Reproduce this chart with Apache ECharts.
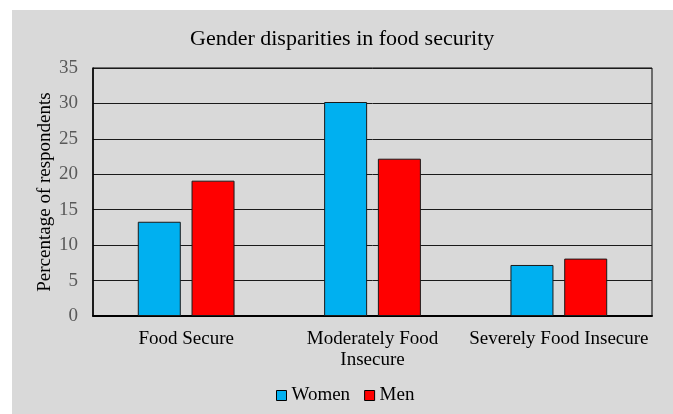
<!DOCTYPE html>
<html><head><meta charset="utf-8">
<script src="https://cdn.jsdelivr.net/npm/echarts@6/dist/echarts.min.js"></script>
<style>html,body{margin:0;padding:0;background:#fff}#c{width:673px;height:414px}</style>
</head><body><div id="c"></div>
<script>
var categories = ['Food Secure', 'Moderately Food\nInsecure', 'Severely Food Insecure'];
var women = [13.3, 30.2, 7.2];
var men = [19.1, 22.2, 8.1];
var yTicks = [0, 5, 10, 15, 20, 25, 30, 35];

var chart = echarts.init(document.getElementById('c'), null, {renderer: 'canvas'});
var serif = '"Liberation Serif","Times New Roman",serif';
chart.setOption({
  backgroundColor: '#ffffff',
  animation: false,
  graphic: [{type: 'rect', z: -10, silent: true, shape: {x: 12, y: 10, width: 661, height: 404}, style: {fill: '#d9d9d9'}}],
  title: {text: 'Gender disparities in food security', left: 185, top: 23,
    textStyle: {fontFamily: serif, fontSize: 22, fontWeight: 'normal', color: '#000'}},
  legend: {bottom: 4, left: 271, itemWidth: 10, itemHeight: 10, itemGap: 14,
    textStyle: {fontFamily: serif, fontSize: 19, color: '#000'},
    data: [{name: 'Women', icon: 'rect', itemStyle: {borderColor: '#000', borderWidth: 1}},
           {name: 'Men', icon: 'rect', itemStyle: {borderColor: '#000', borderWidth: 1}}]},
  grid: {left: 93, right: 21, top: 68, bottom: 98, show: true, borderColor: '#000', borderWidth: 1},
  xAxis: {type: 'category', data: categories,
    axisLine: {lineStyle: {color: '#000', width: 2}}, axisTick: {show: false},
    axisLabel: {fontFamily: serif, fontSize: 19, color: '#000', margin: 13, lineHeight: 21, interval: 0}},
  yAxis: {type: 'value', min: yTicks[0], max: yTicks[yTicks.length - 1], interval: 5,
    name: 'Percentage of respondents', nameLocation: 'middle', nameGap: 38, nameMoveOverlap: false,
    nameTextStyle: {fontFamily: serif, fontSize: 19, color: '#000'},
    axisLine: {show: true, lineStyle: {color: '#000', width: 1.5}}, axisTick: {show: false},
    axisLabel: {fontFamily: serif, fontSize: 19, color: '#595959', margin: 15},
    splitLine: {lineStyle: {color: '#1a1a1a', width: 1}}},
  series: [
    {name: 'Women', type: 'bar', data: women, barWidth: 43, barGap: '25%',
     itemStyle: {color: '#00b0f0', borderColor: '#1a1a1a', borderWidth: 1}},
    {name: 'Men', type: 'bar', data: men, barWidth: 43,
     itemStyle: {color: '#ff0000', borderColor: '#1a1a1a', borderWidth: 1}}
  ]
});
</script></body></html>
